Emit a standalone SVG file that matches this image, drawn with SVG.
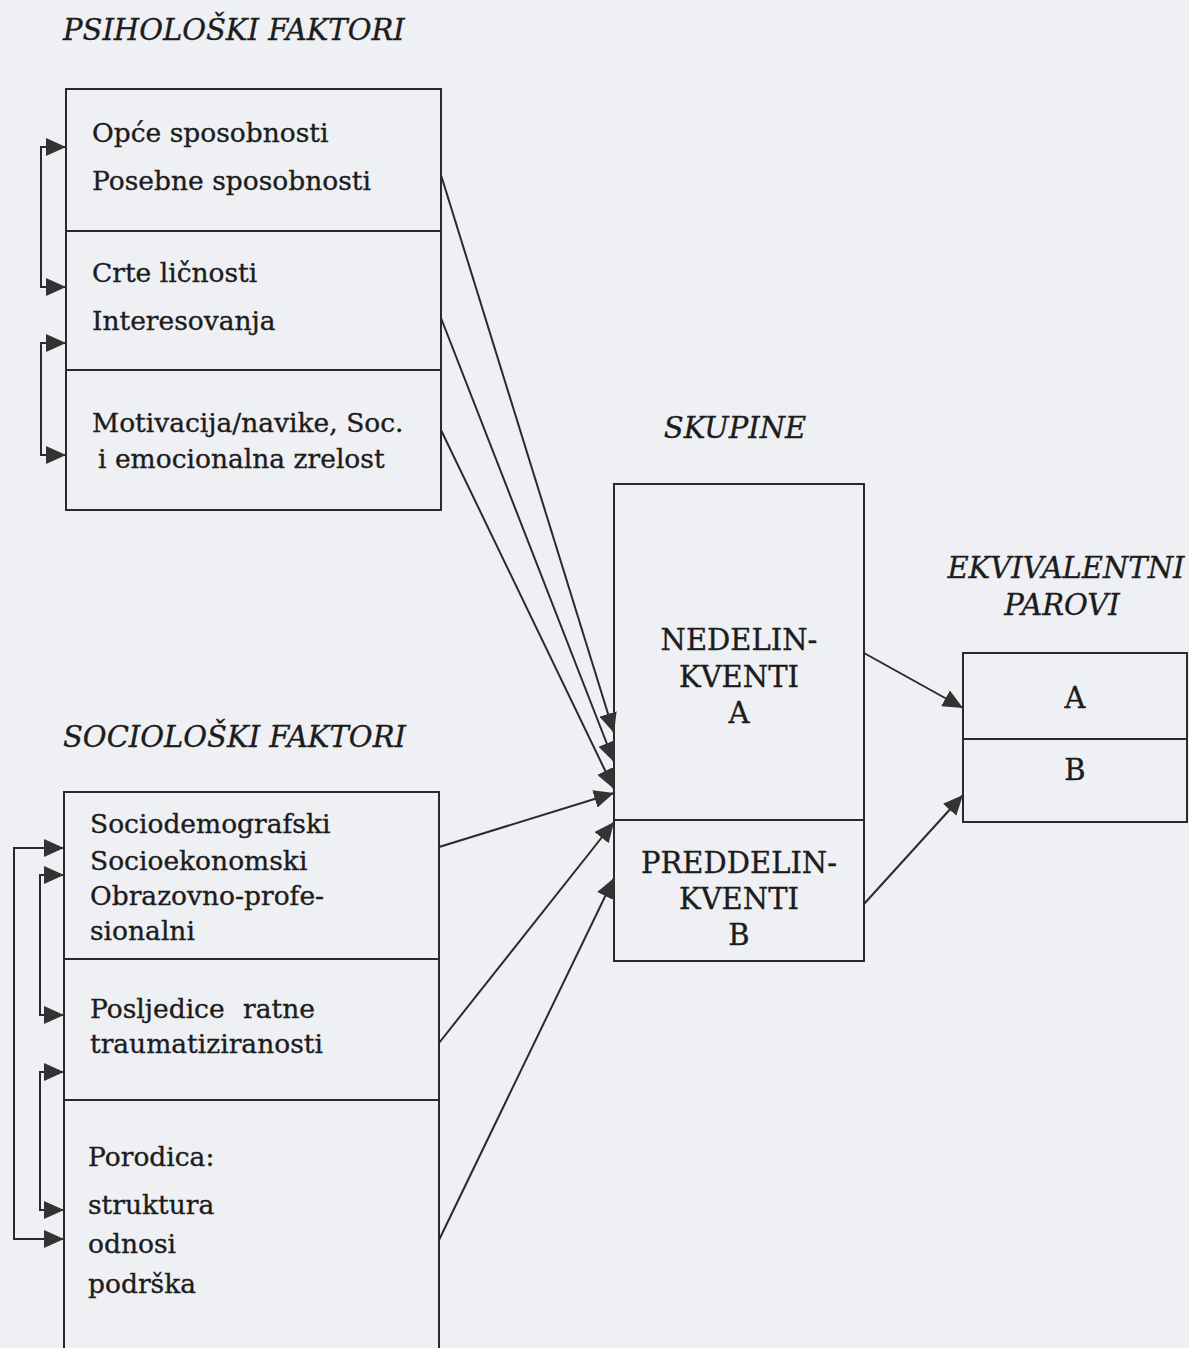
<svg xmlns="http://www.w3.org/2000/svg" width="1189" height="1348" viewBox="0 0 1189 1348">
  <style>
    .bg { fill: #eff0f4; }
    .box { fill: none; stroke: #2a2a2a; stroke-width: 2; }
    .t { font-family: "DejaVu Serif", "Liberation Serif", serif; font-size: 26.5px; fill: #1c1c1c; stroke: #1c1c1c; stroke-width: 0.35; }
    .cap { font-size: 29px; }
    .ti { font-family: "DejaVu Serif", "Liberation Serif", serif; font-style: italic; font-size: 29px; fill: #1c1c1c; stroke: #1c1c1c; stroke-width: 0.35; }
    .c { text-anchor: middle; }
    .con { fill: none; stroke: #2a2a2a; stroke-width: 2; }
  </style>
  <defs>
    <marker id="ah" viewBox="0 0 20 18" refX="20" refY="9" markerWidth="20" markerHeight="18" markerUnits="userSpaceOnUse" orient="auto-start-reverse">
      <path d="M0,0 L20,9 L0,18 z" fill="#333"/>
    </marker>
  </defs>
  <rect class="bg" x="0" y="0" width="1189" height="1348"/>

  <g id="title-psiholoski">
    <text class="ti" x="63" y="40">PSIHOLOŠKI FAKTORI</text>
  </g>
  <g id="psiholoski-faktori">
    <rect class="box" x="66" y="89" width="375" height="421"/>
    <line class="box" x1="66" y1="231" x2="441" y2="231"/>
    <line class="box" x1="66" y1="370" x2="441" y2="370"/>
    <text class="t" x="92" y="142">Opće sposobnosti</text>
    <text class="t" x="92" y="190">Posebne sposobnosti</text>
    <text class="t" x="92" y="282">Crte ličnosti</text>
    <text class="t" x="92" y="330">Interesovanja</text>
    <text class="t" x="92" y="432">Motivacija/navike, Soc.</text>
    <text class="t" x="98" y="468">i emocionalna zrelost</text>
  </g>

  <g id="title-socioloski">
    <text class="ti" x="63" y="747">SOCIOLOŠKI FAKTORI</text>
  </g>
  <g id="socioloski-faktori">
    <path class="box" d="M64,1360 V792 H439 V1360"/>
    <line class="box" x1="64" y1="959" x2="439" y2="959"/>
    <line class="box" x1="64" y1="1100" x2="439" y2="1100"/>
    <text class="t" x="90" y="833">Sociodemografski</text>
    <text class="t" x="90" y="870">Socioekonomski</text>
    <text class="t" x="90" y="905">Obrazovno-profe-</text>
    <text class="t" x="90" y="940">sionalni</text>
    <text class="t" x="90" y="1018" word-spacing="10">Posljedice ratne</text>
    <text class="t" x="90" y="1053">traumatiziranosti</text>
    <text class="t" x="88" y="1166">Porodica:</text>
    <text class="t" x="88" y="1214">struktura</text>
    <text class="t" x="88" y="1253">odnosi</text>
    <text class="t" x="88" y="1293">podrška</text>
  </g>

  <g id="title-skupine">
    <text class="ti c" x="735" y="438">SKUPINE</text>
  </g>
  <g id="skupine">
    <rect class="box" x="614" y="484" width="250" height="477"/>
    <line class="box" x1="614" y1="820" x2="864" y2="820"/>
    <text class="t cap c" x="739" y="650">NEDELIN-</text>
    <text class="t cap c" x="739" y="687">KVENTI</text>
    <text class="t cap c" x="739" y="723">A</text>
    <text class="t cap c" x="739" y="873">PREDDELIN-</text>
    <text class="t cap c" x="739" y="909">KVENTI</text>
    <text class="t cap c" x="739" y="945">B</text>
  </g>

  <g id="title-ekvivalentni">
    <text class="ti c" x="1066" y="578">EKVIVALENTNI</text>
    <text class="ti c" x="1062" y="615">PAROVI</text>
  </g>
  <g id="ekvivalentni-parovi">
    <rect class="box" x="963" y="653" width="224" height="169"/>
    <line class="box" x1="963" y1="739" x2="1187" y2="739"/>
    <text class="t cap c" x="1075" y="708">A</text>
    <text class="t cap c" x="1075" y="780">B</text>
  </g>

  <g id="connectors">
    <polyline class="con" points="66,147 41,147 41,287 66,287" marker-start="url(#ah)" marker-end="url(#ah)"/>
    <polyline class="con" points="66,343 41,343 41,455 66,455" marker-start="url(#ah)" marker-end="url(#ah)"/>
    <polyline class="con" points="64,848 14,848 14,1239 64,1239" marker-start="url(#ah)" marker-end="url(#ah)"/>
    <polyline class="con" points="64,875 40,875 40,1015 64,1015" marker-start="url(#ah)" marker-end="url(#ah)"/>
    <polyline class="con" points="64,1072 40,1072 40,1210 64,1210" marker-start="url(#ah)" marker-end="url(#ah)"/>
    <line class="con" x1="441" y1="175" x2="614" y2="733" marker-end="url(#ah)"/>
    <line class="con" x1="441" y1="318" x2="614" y2="762" marker-end="url(#ah)"/>
    <line class="con" x1="441" y1="430" x2="614" y2="789" marker-end="url(#ah)"/>
    <line class="con" x1="439" y1="847" x2="614" y2="793" marker-end="url(#ah)"/>
    <line class="con" x1="439" y1="1043" x2="614" y2="822" marker-end="url(#ah)"/>
    <line class="con" x1="439" y1="1240" x2="614" y2="878" marker-end="url(#ah)"/>
    <line class="con" x1="864" y1="653" x2="963" y2="708" marker-end="url(#ah)"/>
    <line class="con" x1="864" y1="904" x2="963" y2="795" marker-end="url(#ah)"/>
  </g>
</svg>
